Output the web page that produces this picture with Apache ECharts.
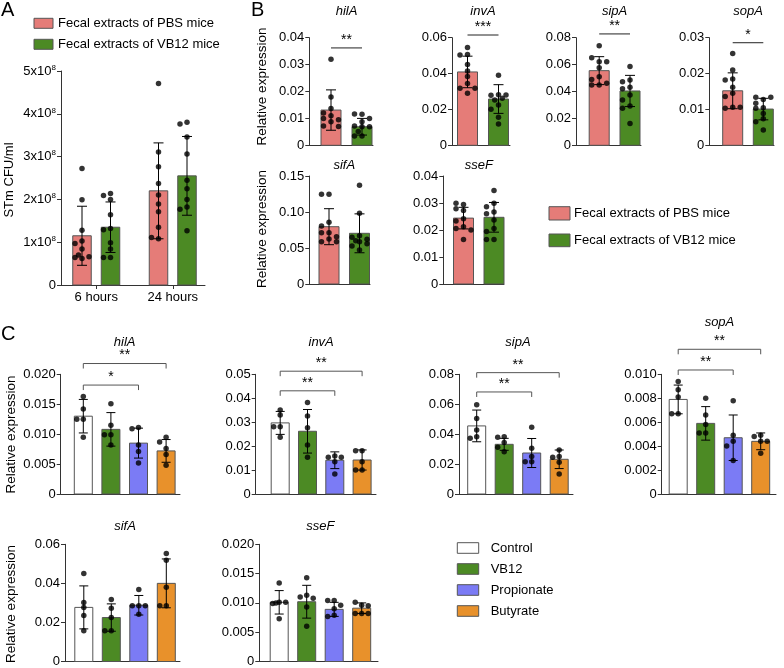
<!DOCTYPE html>
<html><head><meta charset="utf-8">
<script src="https://cdn.jsdelivr.net/npm/echarts@6/dist/echarts.min.js"></script>
<style>html,body{margin:0;padding:0;background:#fff}#c{width:784px;height:668px}</style>
</head><body><div id="c"></div>
<script>
// ---------------- DATA ----------------
// Panel A (values in units of 10^8 CFU/ml)
const A_categories = ['6 hours', '24 hours'];
const A_groups = ['Fecal extracts of PBS mice', 'Fecal extracts of VB12 mice'];
const A_yTicks = [0, 1, 2, 3, 4, 5];
const A_mean_PBS = [1.15, 2.20];
const A_sd_PBS = [0.69, 1.12];
const A_mean_VB12 = [1.35, 2.55];
const A_sd_VB12 = [0.59, 0.92];
const A_dots_PBS = [
  [2.72, 1.99, 1.28, 1.03, 0.84, 0.62, 0.64, 0.66, 0.70, 0.97],
  [4.71, 3.11, 2.76, 2.37, 2.10, 1.89, 1.71, 1.35, 1.08, 1.11]
];
const A_dots_VB12 = [
  [2.14, 2.09, 2.00, 1.64, 1.32, 1.29, 0.99, 0.84, 0.64, 0.64],
  [3.80, 3.76, 3.46, 3.06, 2.45, 2.25, 2.00, 1.82, 1.77, 1.27]
];

// Panel B
const B_genes = ['hilA', 'invA', 'sipA', 'sopA', 'sifA', 'sseF'];
const B_groups = ['Fecal extracts of PBS mice', 'Fecal extracts of VB12 mice'];
const B_mean_PBS = [0.0131, 0.0409, 0.0555, 0.0152, 0.0796, 0.0244];
const B_sd_PBS = [0.0075, 0.0088, 0.0104, 0.0050, 0.0250, 0.0040];
const B_mean_VB12 = [0.0069, 0.0258, 0.0404, 0.0101, 0.0704, 0.0247];
const B_sd_VB12 = [0.0031, 0.0080, 0.0116, 0.0030, 0.0270, 0.0055];
const B_dots_PBS = [
  [0.0320, 0.0180, 0.0137, 0.0120, 0.0110, 0.0100, 0.0088, 0.0072, 0.0070, 0.0095],
  [0.0546, 0.0507, 0.0503, 0.0451, 0.0414, 0.0383, 0.0345, 0.0318, 0.0318, 0.0290],
  [0.0741, 0.0622, 0.0651, 0.0622, 0.0577, 0.0510, 0.0490, 0.0448, 0.0461, 0.0448],
  [0.0256, 0.0210, 0.0185, 0.0162, 0.0145, 0.0136, 0.0106, 0.0103, 0.0106, 0.0182],
  [0.1245, 0.1245, 0.0856, 0.0806, 0.0713, 0.0625, 0.0588, 0.0588, 0.0713, 0.0657],
  [0.0294, 0.0299, 0.0279, 0.0272, 0.0242, 0.0233, 0.0212, 0.0206, 0.0200, 0.0165]
];
const B_dots_VB12 = [
  [0.0115, 0.0116, 0.0100, 0.0088, 0.0072, 0.0069, 0.0069, 0.0035, 0.0035, 0.0051],
  [0.0390, 0.0282, 0.0279, 0.0280, 0.0262, 0.0225, 0.0201, 0.0156, 0.0119, 0.0253],
  [0.0585, 0.0485, 0.0473, 0.0431, 0.0374, 0.0337, 0.0292, 0.0275, 0.0163, 0.0420],
  [0.0128, 0.0134, 0.0134, 0.0105, 0.0103, 0.0089, 0.0074, 0.0066, 0.0043, 0.0117],
  [0.1370, 0.0981, 0.0671, 0.0648, 0.0620, 0.0588, 0.0528, 0.0472, 0.0600, 0.0560],
  [0.0346, 0.0299, 0.0286, 0.0267, 0.0237, 0.0206, 0.0194, 0.0165, 0.0165, 0.0260]
];
const B_yMax = [0.04, 0.06, 0.08, 0.03, 0.15, 0.04];
const B_yStep = [0.01, 0.02, 0.02, 0.01, 0.05, 0.01];
const B_sigLabel = ['**', '***', '**', '*', '', ''];
const B_sigY = [0.0362, 0.0615, 0.0828, 0.0286, null, null];

// Panel C
const C_genes = ['hilA', 'invA', 'sipA', 'sopA', 'sifA', 'sseF'];
const C_groups = ['Control', 'VB12', 'Propionate', 'Butyrate'];
const C_mean = [
  [0.0130, 0.0108, 0.0085, 0.0072],
  [0.0297, 0.0262, 0.0141, 0.0142],
  [0.0455, 0.0332, 0.0274, 0.0232],
  [0.0079, 0.0059, 0.0047, 0.0044],
  [0.0277, 0.0225, 0.0288, 0.0400],
  [0.0101, 0.0102, 0.0089, 0.0091]
];
const C_sd = [
  [0.0028, 0.0028, 0.0025, 0.0019],
  [0.0048, 0.0091, 0.0035, 0.0042],
  [0.0106, 0.0040, 0.0097, 0.0062],
  [0.0012, 0.0014, 0.0019, 0.0007],
  [0.0110, 0.0070, 0.0050, 0.0125],
  [0.0020, 0.0028, 0.0012, 0.0009]
];
const C_dots = [
  [[0.0163, 0.0142, 0.0125, 0.0125, 0.0095], [0.0151, 0.0115, 0.0099, 0.0099, 0.0082], [0.0111, 0.0109, 0.0082, 0.0071, 0.0052], [0.0095, 0.0087, 0.0076, 0.0066, 0.0048]],
  [[0.0351, 0.0330, 0.0281, 0.0281, 0.0237], [0.0382, 0.0326, 0.0277, 0.0205, 0.0153], [0.0159, 0.0153, 0.0153, 0.0135, 0.0084], [0.0181, 0.0181, 0.0135, 0.0100, 0.0100]],
  [[0.0597, 0.0505, 0.0428, 0.0383, 0.0372], [0.0383, 0.0379, 0.0345, 0.0312, 0.0283], [0.0446, 0.0305, 0.0250, 0.0216, 0.0216], [0.0294, 0.0250, 0.0245, 0.0212, 0.0134]],
  [[0.0094, 0.0087, 0.0081, 0.0067, 0.0067], [0.0080, 0.0066, 0.0058, 0.0051, 0.0051], [0.0078, 0.0049, 0.0044, 0.0040, 0.0028], [0.0049, 0.0048, 0.0044, 0.0044, 0.0034]],
  [[0.0450, 0.0302, 0.0277, 0.0235, 0.0158], [0.0318, 0.0272, 0.0225, 0.0158, 0.0158], [0.0368, 0.0285, 0.0285, 0.0285, 0.0242], [0.0553, 0.0518, 0.0380, 0.0285, 0.0285]],
  [[0.0134, 0.0101, 0.0099, 0.0101, 0.0073, 0.0100], [0.0143, 0.0113, 0.0110, 0.0108, 0.0093, 0.0060], [0.0104, 0.0104, 0.0096, 0.0079, 0.0077, 0.0090], [0.0096, 0.0101, 0.0095, 0.0082, 0.0082, 0.0082]]
];
const C_yMax = [0.020, 0.05, 0.08, 0.010, 0.06, 0.020];
const C_yStep = [0.005, 0.01, 0.02, 0.002, 0.02, 0.005];
const C_yDecimals = [3, 2, 2, 3, 2, 3];
const C_sigTo = [2, 3];
const C_sigLabel = [['*', '**'], ['**', '**'], ['**', '**'], ['**', '**'], [], []];
const C_sigY = [[0.0182, 0.0218], [0.0431, 0.0513], [0.0682, 0.0811], [0.01036, 0.01209], [], []];

// ---------------- STYLE / LAYOUT ----------------
const FONT = '"Liberation Sans", Arial, sans-serif';
const AX = '#333';
const COL_A = ['#E57C78', '#4C8A24'];
const COL_C = ['#FFFFFF', '#4C8A24', '#7B7BF5', '#E8912B'];
const BORDER = '#555';

const LAYOUT_A = {left: 61, right: 205, top: 71, bottom: 285, c0: 96.25, unit: 76.5, barOffset: 14.25};
const LAYOUT_B = [
  {left: 309.3, right: 373, top: 37.7, bottom: 145.3, c0: 331, unit: 31, titleY: 11},
  {left: 452, right: 510, top: 37.7, bottom: 145.3, c0: 467.5, unit: 31, titleY: 11},
  {left: 576, right: 641, top: 37.7, bottom: 145.3, c0: 599.2, unit: 30.8, titleY: 11},
  {left: 709.3, right: 774, top: 37.7, bottom: 145.3, c0: 732.7, unit: 30.6, titleY: 11},
  {left: 309.3, right: 370, top: 176, bottom: 284, c0: 329, unit: 30.5, titleY: 165},
  {left: 443.3, right: 504, top: 176, bottom: 284, c0: 463.5, unit: 30.5, titleY: 165}
];
const LAYOUT_C = [
  {left: 60.7, right: 180, top: 374.3, bottom: 494, c0: 83.3, unit: 27.6, titleY: 342.7},
  {left: 255.7, right: 376, top: 374.3, bottom: 494, c0: 280.2, unit: 27.3, titleY: 342.7},
  {left: 459, right: 573, top: 374.3, bottom: 494, c0: 476.7, unit: 27.5, titleY: 342.7},
  {left: 661.7, right: 776, top: 374.3, bottom: 494, c0: 678.2, unit: 27.5, titleY: 322.3},
  {left: 65, right: 180, top: 544.3, bottom: 664.3, c0: 83.8, unit: 27.5, titleY: 526.7},
  {left: 259.3, right: 378, top: 544.3, bottom: 664.3, c0: 279.2, unit: 27.5, titleY: 526.7}
];

// ---------------- BUILD ----------------
const grids = [], xAxes = [], yAxes = [], series = [], graphics = [];

// horizontal spread of dots within a bar (pixel offsets), kept inside the bar
function swarm(values, pxPerVal, step, diam) {
  const placed = [];
  const cands = [0, -step, step, -step / 2, step / 2];
  return values.map(v => {
    const y = v * pxPerVal;
    let best = 0, bestD = -1;
    for (const dx of cands) {
      const d = placed.length ? Math.min(...placed.map(p => Math.hypot(p.x - dx, p.y - y))) : Infinity;
      if (d >= diam) { best = dx; bestD = d; break; }
      if (d > bestD) { bestD = d; best = dx; }
    }
    placed.push({x: best, y});
    return best;
  });
}

function addPlot(L, o) {
  const gi = grids.length;
  grids.push({left: L.left, top: L.top, width: L.right - L.left, height: L.bottom - L.top});
  const xa = {
    gridIndex: gi, type: 'value',
    min: -(L.c0 - L.left) / L.unit, max: (L.right - L.c0) / L.unit,
    axisLine: {show: true, onZero: false, lineStyle: {color: AX, width: 1}},
    axisTick: {show: false}, axisLabel: {show: false}, splitLine: {show: false}
  };
  if (o.xLabels) {
    const vals = o.xLabels.map((_, i) => i);
    xa.axisTick = {show: true, length: 4, customValues: vals, lineStyle: {color: AX}};
    xa.axisLabel = {show: true, customValues: vals, formatter: v => o.xLabels[Math.round(v)],
      fontSize: 13, fontFamily: FONT, color: '#000', margin: 6};
  }
  xAxes.push(xa);
  yAxes.push({
    gridIndex: gi, type: 'value', min: 0, max: o.yMax, interval: o.yStep,
    axisLine: {show: true, onZero: false, lineStyle: {color: AX, width: 1}},
    axisTick: {show: true, length: 4, lineStyle: {color: AX}},
    axisLabel: Object.assign({fontSize: 13, fontFamily: FONT, color: '#000', margin: 5, formatter: o.fmt}, o.labelExtra || {}),
    splitLine: {show: false}
  });
  const pxPerVal = (L.bottom - L.top) / o.yMax;
  const bars = o.bars;
  series.push({
    type: 'custom', xAxisIndex: gi, yAxisIndex: gi, clip: false, z: 2, silent: true,
    data: bars.map(b => [b.x, b.mean, b.sd]),
    renderItem: (params, api) => {
      const x = api.value(0), m = api.value(1);
      const p0 = api.coord([x, 0]), p1 = api.coord([x, m]);
      const w = o.barWidth;
      return {type: 'rect', shape: {x: p1[0] - w / 2, y: p1[1], width: w, height: p0[1] - p1[1]},
        style: {fill: bars[params.dataIndex].color, stroke: BORDER, lineWidth: 1}};
    }
  });
  const dotData = [];
  bars.forEach(b => {
    const offs = swarm(b.dots, pxPerVal, o.step, 5);
    b.dots.forEach((v, k) => dotData.push([b.x + offs[k] / L.unit, v]));
  });
  series.push({
    type: 'scatter', xAxisIndex: gi, yAxisIndex: gi, z: 3, silent: true,
    symbol: 'circle', symbolSize: 5.5, itemStyle: {color: '#000'}, data: dotData
  });
  series.push({
    type: 'custom', xAxisIndex: gi, yAxisIndex: gi, clip: false, z: 4, silent: true,
    data: bars.map(b => [b.x, b.mean, b.sd]),
    renderItem: (params, api) => {
      const x = api.value(0), m = api.value(1), sd = api.value(2);
      const t = api.coord([x, m + sd]), bt = api.coord([x, m - sd]);
      const c = o.cap / 2;
      const st = {stroke: '#000', lineWidth: 1};
      return {type: 'group', children: [
        {type: 'line', shape: {x1: t[0], y1: t[1], x2: bt[0], y2: bt[1]}, style: st},
        {type: 'line', shape: {x1: t[0] - c, y1: t[1], x2: t[0] + c, y2: t[1]}, style: st},
        {type: 'line', shape: {x1: bt[0] - c, y1: bt[1], x2: bt[0] + c, y2: bt[1]}, style: st}
      ]};
    }
  });
  if (o.sig && o.sig.length) {
    const sig = o.sig;
    series.push({
      type: 'custom', xAxisIndex: gi, yAxisIndex: gi, clip: false, z: 5, silent: true,
      data: sig.map(s => [s.x1, s.x2, s.y]),
      renderItem: (params, api) => {
        const s = sig[params.dataIndex];
        const a = api.coord([api.value(0), api.value(2)]);
        const b = api.coord([api.value(1), api.value(2)]);
        const tk = s.bracket ? 5 : 0;
        const col = s.bracket ? '#555' : '#222';
        return {type: 'group', children: [
          {type: 'polyline', shape: {points: [[a[0], a[1] + tk], [a[0], a[1]], [b[0], b[1]], [b[0], b[1] + tk]]},
            style: {stroke: col, lineWidth: 1, fill: null}},
          {type: 'text', style: {text: s.label, x: (a[0] + b[0]) / 2, y: a[1] - 1, align: 'center', verticalAlign: 'bottom',
            fontSize: 14, fontFamily: FONT, fill: '#000'}}
        ]};
      }
    });
  }
  return gi;
}

function txt(text, x, y, extra) {
  graphics.push(Object.assign({type: 'text', x: x, y: y, silent: true,
    style: Object.assign({text: text, fontSize: 13, fontFamily: FONT, fill: '#000', align: 'center', verticalAlign: 'middle'}, extra && extra.style || {})},
    extra && extra.el || {}));
}
function box(x, y, w, h, color) {
  graphics.push({type: 'rect', silent: true, shape: {x: x, y: y, width: w, height: h}, style: {fill: color, stroke: BORDER, lineWidth: 1}});
}

// ---- Panel A ----
{
  const L = LAYOUT_A;
  const off = L.barOffset / L.unit;
  const bars = [];
  A_categories.forEach((c, g) => {
    bars.push({x: g - off, mean: A_mean_PBS[g], sd: A_sd_PBS[g], color: COL_A[0], dots: A_dots_PBS[g]});
    bars.push({x: g + off, mean: A_mean_VB12[g], sd: A_sd_VB12[g], color: COL_A[1], dots: A_dots_VB12[g]});
  });
  addPlot(L, {
    yMax: A_yTicks[A_yTicks.length - 1], yStep: A_yTicks[1] - A_yTicks[0],
    fmt: v => v === 0 ? '0' : '{m|' + v + 'x10}{s|8}',
    labelExtra: {rich: {m: {fontSize: 13, fontFamily: FONT, color: '#000'}, s: {fontSize: 8, fontFamily: FONT, color: '#000', padding: [0, 0, 7, 0]}}},
    bars: bars, barWidth: 18.5, cap: 10, step: 7, xLabels: A_categories
  });
  txt('STm CFU/ml', 9, 180, {el: {rotation: Math.PI / 2}});
  box(34, 18.3, 19, 10, COL_A[0]);
  box(34, 39.3, 19, 10, COL_A[1]);
  txt(A_groups[0], 58, 23.3, {style: {align: 'left'}});
  txt(A_groups[1], 58, 44.3, {style: {align: 'left'}});
  txt('A', 1, 0, {style: {fontSize: 20, align: 'left', verticalAlign: 'top'}});
}

// ---- Panel B ----
B_genes.forEach((gene, i) => {
  const L = LAYOUT_B[i];
  const bars = [
    {x: 0, mean: B_mean_PBS[i], sd: B_sd_PBS[i], color: COL_A[0], dots: B_dots_PBS[i]},
    {x: 1, mean: B_mean_VB12[i], sd: B_sd_VB12[i], color: COL_A[1], dots: B_dots_VB12[i]}
  ];
  const sig = B_sigLabel[i] ? [{x1: 0, x2: 1, y: B_sigY[i], label: B_sigLabel[i], bracket: false}] : [];
  addPlot(L, {
    yMax: B_yMax[i], yStep: B_yStep[i], fmt: v => v === 0 ? '0' : v.toFixed(2),
    bars: bars, barWidth: 20, cap: 10, step: 7.5, sig: sig
  });
  txt(gene, L.c0 + 0.5 * L.unit, L.titleY, {style: {fontStyle: 'italic'}});
});
txt('Relative expression', 262.5, 86.5, {el: {rotation: Math.PI / 2}, style: {fontSize: 13.5}});
txt('Relative expression', 262, 229, {el: {rotation: Math.PI / 2}, style: {fontSize: 13.5}});
box(549, 206.7, 21, 13.3, COL_A[0]);
box(549, 234, 21, 12.7, COL_A[1]);
txt(B_groups[0], 574, 213.3, {style: {align: 'left'}});
txt(B_groups[1], 574, 240.3, {style: {align: 'left'}});
txt('B', 251, 0, {style: {fontSize: 20, align: 'left', verticalAlign: 'top'}});

// ---- Panel C ----
C_genes.forEach((gene, i) => {
  const L = LAYOUT_C[i];
  const bars = C_groups.map((g, j) => ({x: j, mean: C_mean[i][j], sd: C_sd[i][j], color: COL_C[j], dots: C_dots[i][j]}));
  const sig = C_sigLabel[i].map((lab, k) => ({x1: 0, x2: C_sigTo[k], y: C_sigY[i][k], label: lab, bracket: true}));
  const d = C_yDecimals[i];
  addPlot(L, {
    yMax: C_yMax[i], yStep: C_yStep[i], fmt: v => v === 0 ? '0' : v.toFixed(d),
    bars: bars, barWidth: 18, cap: 9, step: 6.5, sig: sig
  });
  txt(gene, L.c0 + 1.5 * L.unit, L.titleY, {style: {fontStyle: 'italic'}});
});
txt('Relative expression', 11, 434.5, {el: {rotation: Math.PI / 2}, style: {fontSize: 13.5}});
txt('Relative expression', 11, 604, {el: {rotation: Math.PI / 2}, style: {fontSize: 13.5}});
C_groups.forEach((g, j) => {
  box(457.3, 542.7 + j * 21, 21.4, 10.6, COL_C[j]);
  txt(g, 490.7, 548 + j * 21, {style: {align: 'left'}});
});
txt('C', 1, 324, {style: {fontSize: 20, align: 'left', verticalAlign: 'top'}});

const chart = echarts.init(document.getElementById('c'), null, {renderer: 'canvas'});
chart.setOption({
  animation: false,
  backgroundColor: '#fff',
  textStyle: {fontFamily: FONT},
  grid: grids, xAxis: xAxes, yAxis: yAxes, series: series, graphic: graphics
});
</script></body></html>
